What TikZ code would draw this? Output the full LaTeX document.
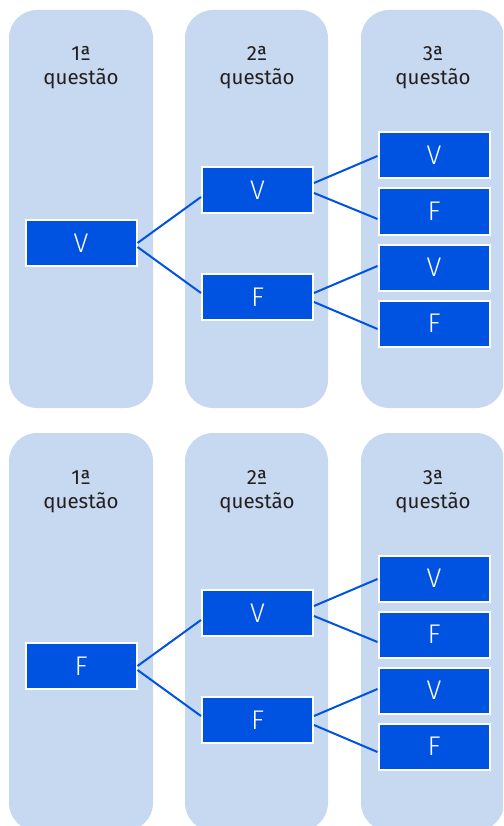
\documentclass[tikz,border=0pt]{standalone}
\usepackage{fontspec}
\setmainfont{Fira Sans}[UprightFont={* Light}]
\newfontfamily\headfont{Fira Sans}
\usetikzlibrary{calc}

\definecolor{panelblue}{RGB}{198,217,240}
\definecolor{boxblue}{RGB}{0,82,224}
\definecolor{headtext}{RGB}{35,31,32}

\tikzset{
  panel/.style={fill=panelblue, draw=none, rounded corners=28pt},
  choice/.style={draw=white, line width=2pt, fill=boxblue, text=white,
    minimum width=111pt, minimum height=46pt, inner sep=0pt,
    font=\fontsize{27}{27}\selectfont},
  head/.style={text=headtext, align=center, font=\headfont\fontsize{20.5}{24}\selectfont},
  link/.style={draw=boxblue, line width=2pt},
}

\begin{document}
\begin{tikzpicture}[x=1pt,y=-1pt]
  \useasboundingbox (0,0) rectangle (503,826);
  \clip (0,0) rectangle (503,826);

  % two trees: first answer V on top, first answer F below
  \foreach \s/\oy/\L in {t/0/V, b/423/F}{
    \begin{scope}[yshift=-\oy pt]
      % column panels
      \fill[panel] (9,10) rectangle (153,408);
      \fill[panel] (185,10) rectangle (328,408);
      \fill[panel] (361,10) rectangle (504,408);

      % column headings (base = baseline of the last line)
      \node[head, anchor=base] (\s h1) at (81,85) {1ª\\questão};
      \node[head, anchor=base] (\s h2) at (257,85) {2ª\\questão};
      \node[head, anchor=base] (\s h3) at (433,85) {3ª\\questão};

      % answer boxes
      \node[choice] (\s a) at (81,243) {\L};
      \node[choice] (\s bv) at (257.5,190) {V};
      \node[choice] (\s bf) at (257.5,297) {F};
      \node[choice] (\s cv1) at (434,155.5) {V};
      \node[choice] (\s cf1) at (434,211.5) {F};
      \node[choice] (\s cv2) at (434,267.5) {V};
      \node[choice] (\s cf2) at (434,323.5) {F};

      % branches
      \draw[link] (\s a.east) -- ($(\s bv.west)+(0,7)$);
      \draw[link] ($(\s a.east)+(0,4)$) -- ($(\s bf.west)+(0,-4)$);
      \draw[link] ($(\s bv.east)+(0,-7)$) -- ($(\s cv1.west)+(0,0.5)$);
      \draw[link] ($(\s bv.east)+(0,3)$) -- ($(\s cf1.west)+(0,7.5)$);
      \draw[link] ($(\s bf.east)+(0,-4)$) -- ($(\s cv2.west)+(0,-1.5)$);
      \draw[link] ($(\s bf.east)+(0,5)$) -- ($(\s cf2.west)+(0,5.5)$);
    \end{scope}
  }
\end{tikzpicture}
\end{document}
